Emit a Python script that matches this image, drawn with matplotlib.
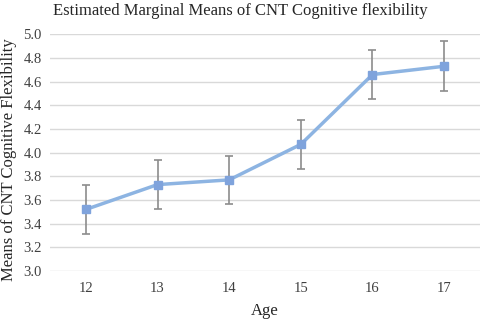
import matplotlib
matplotlib.use("Agg")
import matplotlib.pyplot as plt
import numpy as np

ages = ["12", "13", "14", "15", "16", "17"]
means = [3.52, 3.73, 3.77, 4.07, 4.66, 4.73]
errors = [0.21, 0.205, 0.205, 0.207, 0.208, 0.21]
yticks = [3.0, 3.2, 3.4, 3.6, 3.8, 4.0, 4.2, 4.4, 4.6, 4.8, 5.0]

plt.rcParams['font.family'] = ['Liberation Serif', 'DejaVu Serif']

fig = plt.figure(figsize=(4.8, 3.2), dpi=100)
ax = fig.add_axes([50/480, 1-271/320, 430/480, (271-34.3)/320])

x = np.arange(len(ages))
ax.errorbar(x, means, yerr=errors, fmt='none', ecolor='#8c8c8c', elinewidth=1.2,
            capsize=3, capthick=1.2, zorder=2)
ax.plot(x, means, color='#8db4e2', lw=2.5, marker='s', markersize=6,
        markerfacecolor='#7fa3dc', markeredgecolor='#7fa3dc', zorder=3)

ax.set_xlim(-0.5, len(ages) - 0.5)
ax.set_ylim(3.0, 5.0)
ax.set_yticks(yticks)
ax.set_yticklabels([f"{v:.1f}" for v in yticks], fontsize=10.5, color='#404040')
ax.set_xticks(x)
ax.set_xticklabels(ages, fontsize=10.5, color='#404040')
ax.tick_params(axis='y', length=0, pad=6)
ax.tick_params(axis='x', length=0, pad=8)
ax.grid(axis='y', color='#d9d9d9', lw=1)
ax.set_axisbelow(True)
for s in ax.spines.values():
    s.set_visible(False)

ax.set_xlabel("Age", fontsize=12, color='#262626', labelpad=6)
ax.set_ylabel("Means of CNT Cognitive Flexibility", fontsize=12, color='#262626')
ax.yaxis.set_label_coords(-0.077, 0.47)
fig.text(0.5, 1-11/320, "Estimated Marginal Means of CNT Cognitive flexibility",
         ha='center', va='center', fontsize=12, color='#262626')

fig.savefig("out.png", dpi=100)
